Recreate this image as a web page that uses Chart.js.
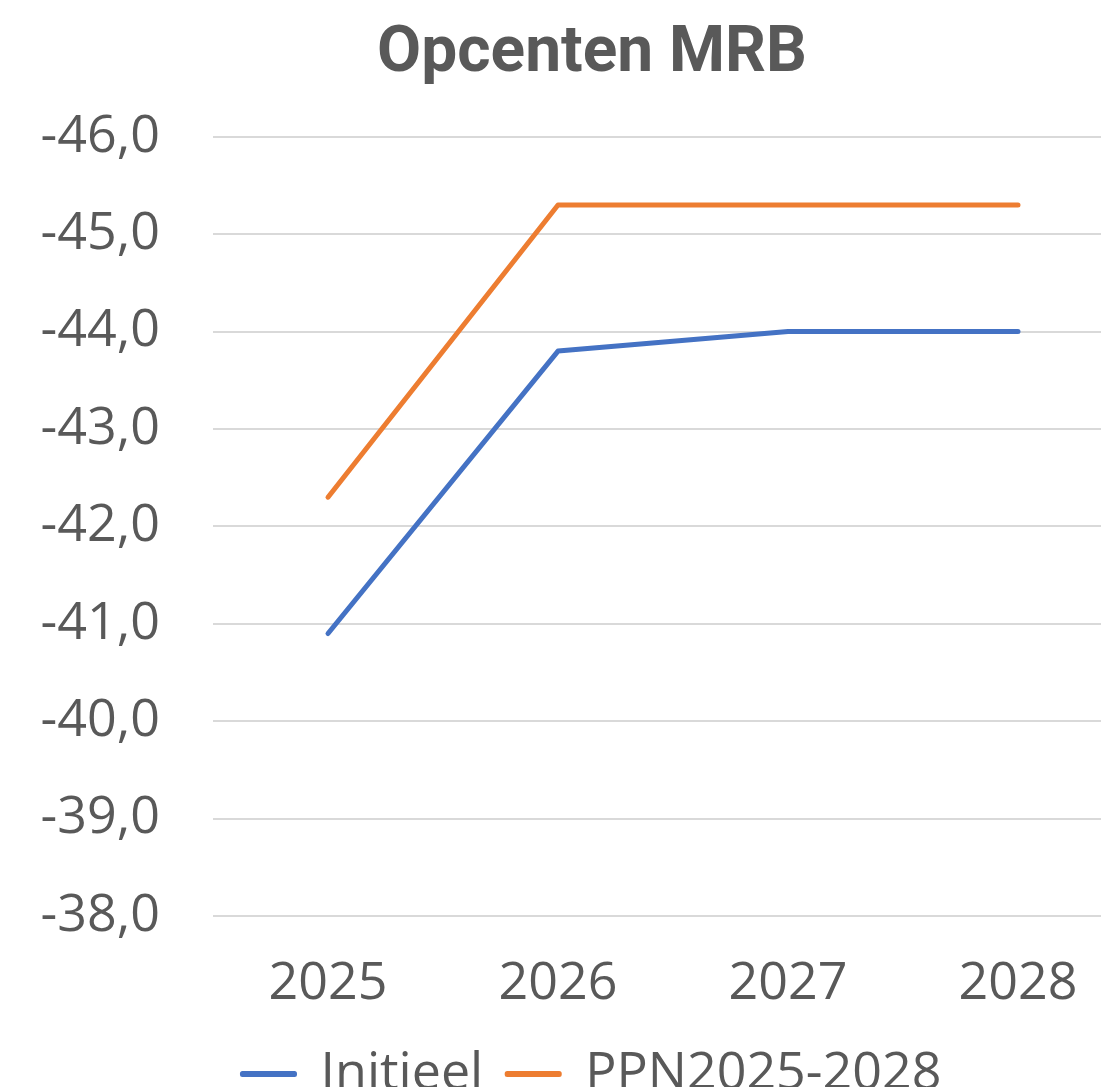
<!DOCTYPE html>
<html>
<head>
<meta charset="utf-8">
<script src="https://cdn.jsdelivr.net/npm/chart.js@4/dist/chart.umd.min.js"></script>
<style>
  html, body { margin: 0; padding: 0; background: #fff; overflow: hidden; }
  #wrap { width: 1184px; height: 1110px; }
</style>
</head>
<body>
<div id="wrap"><canvas id="grafiek" width="1184" height="1110"></canvas></div>
<script>
const jaren = ['2025', '2026', '2027', '2028'];
const initieel = [-40.9, -43.8, -44.0, -44.0];
const ppn = [-42.3, -45.3, -45.3, -45.3];

const grijs = '#595959';
const lettertype = "'Open Sans', sans-serif";

function komma(v) {
  return Number(v).toFixed(1).replace('.', ',');
}

const ctx = document.getElementById('grafiek').getContext('2d');
new Chart(ctx, {
  type: 'line',
  data: {
    labels: jaren,
    datasets: [{
      label: 'Initieel',
      data: initieel,
      borderColor: '#4472C4',
      backgroundColor: '#4472C4',
      borderWidth: 5,
      borderCapStyle: 'round',
      borderJoinStyle: 'round',
      pointRadius: 0,
      tension: 0
    }, {
      label: 'PPN2025-2028',
      data: ppn,
      borderColor: '#ED7D31',
      backgroundColor: '#ED7D31',
      borderWidth: 5,
      borderCapStyle: 'round',
      borderJoinStyle: 'round',
      pointRadius: 0,
      tension: 0
    }]
  },
  options: {
    responsive: false,
    animation: false,
    layout: { padding: 0 },
    scales: {
      x: {
        offset: true,
        grid: { display: false, drawTicks: false },
        border: { display: false },
        ticks: { color: grijs, padding: 37, maxRotation: 0, font: { family: lettertype, size: 52 } },
        afterFit: s => { s.height = 108; }
      },
      y: {
        reverse: true,
        min: -46,
        max: -38,
        grid: { color: '#D9D9D9', lineWidth: 2, drawTicks: false },
        border: { display: false },
        ticks: {
          stepSize: 1,
          color: grijs,
          padding: 53,
          font: { family: lettertype, size: 52 },
          callback: v => komma(v)
        },
        afterFit: s => { s.width = 213; }
      },
      rechts: {
        position: 'right',
        display: true,
        grid: { display: false, drawTicks: false },
        border: { display: false },
        ticks: { display: false },
        afterFit: s => { s.width = 51; }
      }
    },
    plugins: {
      title: {
        display: true,
        text: 'Opcenten MRB',
        color: grijs,
        font: { family: 'Roboto, sans-serif', size: 64, weight: 'bold', lineHeight: 1.2 },
        padding: { top: 17, bottom: 43 }
      },
      legend: {
        position: 'bottom',
        labels: {
          color: grijs,
          boxWidth: 52,
          boxHeight: 1,
          padding: 24,
          font: { family: lettertype, size: 52 }
        }
      },
      tooltip: { enabled: false }
    }
  }
});
</script>
</body>
</html>
